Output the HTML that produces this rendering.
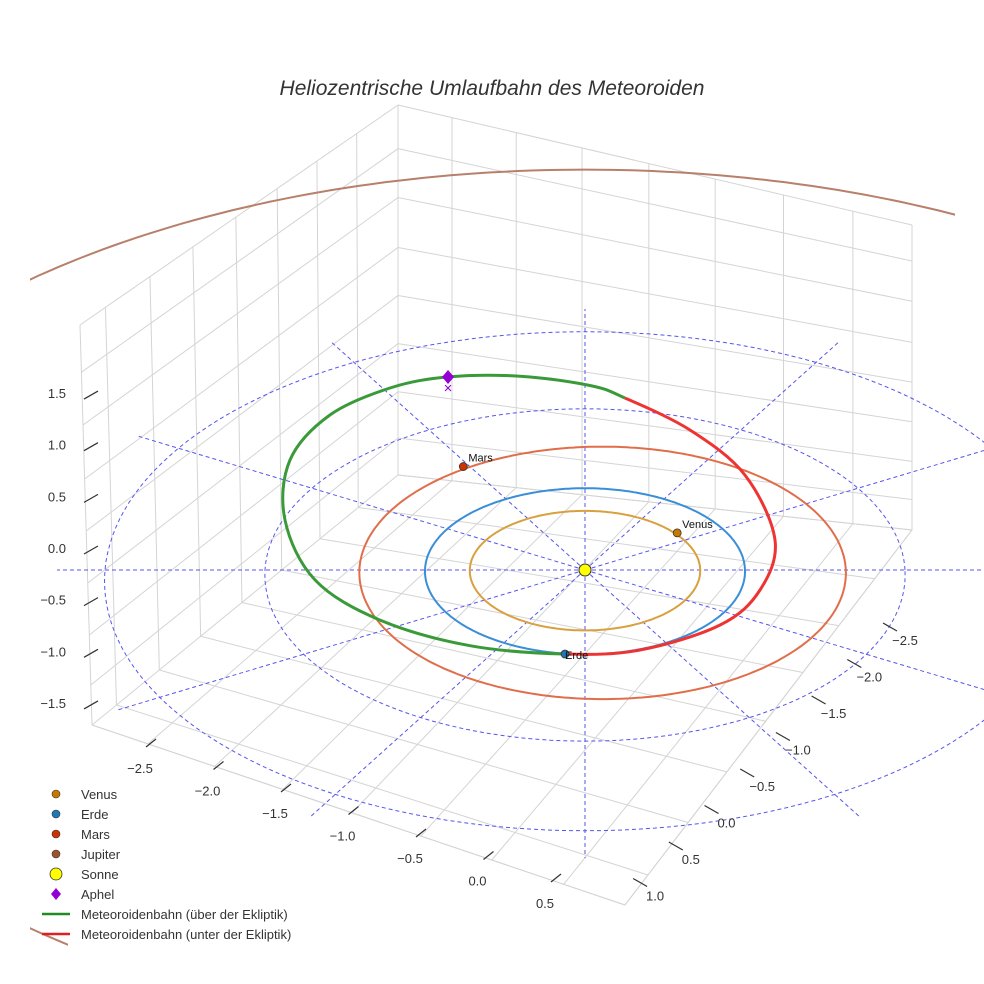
<!DOCTYPE html>
<html><head><meta charset="utf-8"><style>
html,body{margin:0;padding:0;background:#fff;overflow:hidden;width:984px;height:984px}
svg{display:block}
text{font-family:"Liberation Sans",sans-serif}
</style></head><body>
<svg id="c" width="984" height="984" viewBox="0 0 984 984">
<defs><clipPath id="jclip"><rect x="30" y="0" width="925" height="940"/><rect x="30" y="940" width="38" height="44"/></clipPath></defs>
<rect width="984" height="984" fill="#fff"/>
<text x="492" y="95" text-anchor="middle" font-size="21" font-style="italic" fill="#333">Heliozentrische Umlaufbahn des Meteoroiden</text>
<g id="grid"></g><g id="plane"></g><g id="orbits"></g><g id="ticks"></g><g id="legend"></g>
</svg>
<script>
// ---- data ----
const planetNames = ["Venus","Erde","Mars","Jupiter"];
const planetA = [0.72, 1.0, 1.52, 5.2];
const planetCenterX = [0, 0, 0.11, 0];
const planetPosX = [0.58, -0.123, -0.775, null];
const planetPosY = [0.45, -0.997, 1.27, null];
const meteorX = [-0.123,-0.709,-1.27,-1.684,-1.892,-1.881,-1.64,-1.26,-0.887,-0.421,0.032,0.258,0.673,1.017,1.194,1.09,0.836,0.339];
const meteorY = [-0.997,-0.90,-0.598,-0.12,0.608,1.352,1.921,2.267,2.41,2.42,2.30,2.139,1.73,1.164,0.363,-0.24,-0.656,-0.95];
const greenEnd = 11;
const aphelX = [-0.887];
const aphelY = [2.41];
const ringRadii = [2, 3];
const spokeAngles = [0,30,60,90,120,150,180,210,240,270,300,330];
const xTicks = [-2.5,-2,-1.5,-1,-0.5,0,0.5];
const yTicks = [-2.5,-2,-1.5,-1,-0.5,0,0.5,1];
const zTicks = [-1.5,-1,-0.5,0,0.5,1,1.5];

const NS="http://www.w3.org/2000/svg";
function mk(tag,attrs,parent){const e=document.createElementNS(NS,tag);for(const k in attrs)e.setAttribute(k,attrs[k]);parent.appendChild(e);return e;}
function P(x,y){const f=1/(1+0.015*y);return [585+160*x*f,570-83*y*f];}
const lerp=(a,b,t)=>[a[0]+(b[0]-a[0])*t,a[1]+(b[1]-a[1])*t];

// ---- box grid ----
const G=document.getElementById('grid');
const B0=[398,475],B1=[398,105],L0=[92,725],L1=[80,325],R0=[912,530],R1=[912,225],F0=[625,905];
function gl(a,b,name){const l=mk('line',{x1:a[0],y1:a[1],x2:b[0],y2:b[1],stroke:'#d4d4d4','stroke-width':1},G);

}
const zFr=[0,0.118,0.25,0.385,0.515,0.645,0.775,0.9,1];
zFr.forEach(t=>{const b=lerp(B1,B0,t),l=lerp(L1,L0,t),r=lerp(R1,R0,t);gl(l,b,'wall-gridline');gl(b,r,'wall-gridline');});
const lFr=[0,0.13,0.255,0.38,0.51,0.645,0.78,0.92,1];
lFr.forEach(s=>{gl(lerp(B0,L0,s),lerp(B1,L1,s),'wall-gridline');gl(lerp(B0,L0,s),lerp(R0,F0,s),'floor-gridline');});
const rFr=[0.105,0.23,0.358,0.488,0.617,0.75,0.885,1];
rFr.forEach(s=>{gl(lerp(B0,R0,s),lerp(B1,R1,s),'wall-gridline');gl(lerp(B0,R0,s),lerp(L0,F0,s),'floor-gridline');});
gl(L0,F0,'floor-edge');gl(R0,F0,'floor-edge');

// ---- ecliptic plane ----
const PL=document.getElementById('plane');
ringRadii.forEach(r=>{let d='';for(let i=0;i<=180;i++){const a=i/180*2*Math.PI;const p=P(r*Math.cos(a),r*Math.sin(a));d+=(i?'L':'M')+p[0].toFixed(1)+','+p[1].toFixed(1);}
const e=mk('path',{d:d,fill:'none',stroke:'#5555ee','stroke-width':1,'stroke-dasharray':'4,3'},PL);

});
spokeAngles.forEach(deg=>{const a=deg*Math.PI/180;const p=P(3.3*Math.cos(a),3.3*Math.sin(a));
const e=mk('line',{x1:585,y1:570,x2:p[0],y2:p[1],stroke:'#5555ee','stroke-width':1,'stroke-dasharray':'4,3'},PL);

});

// ---- orbits ----
const O=document.getElementById('orbits');
const orbitColors=['#d9a040','#3a8ed8','#e06e4a','#b8806a'];
const dotColors=['#c77800','#1f77b4','#cc3300','#a0522d'];
planetA.forEach((a,i)=>{let d='';for(let k=0;k<=360;k++){const t=k/360*2*Math.PI;const p=P(planetCenterX[i]+a*Math.cos(t),a*Math.sin(t));d+=(k?'L':'M')+p[0].toFixed(1)+','+p[1].toFixed(1);}
const e=mk('path',{d:d,fill:'none',stroke:orbitColors[i],'stroke-width':2},O);
if(i===3)e.setAttribute('clip-path','url(#jclip)');

});
// meteoroid spline
const pts=meteorX.map((x,i)=>P(x,meteorY[i]));const n=pts.length;
function seg(i){const p0=pts[(i-1+n)%n],p1=pts[i],p2=pts[(i+1)%n],p3=pts[(i+2)%n];
return 'C'+(p1[0]+(p2[0]-p0[0])/6).toFixed(1)+','+(p1[1]+(p2[1]-p0[1])/6).toFixed(1)+' '+(p2[0]-(p3[0]-p1[0])/6).toFixed(1)+','+(p2[1]-(p3[1]-p1[1])/6).toFixed(1)+' '+p2[0].toFixed(1)+','+p2[1].toFixed(1);}
let dg='M'+pts[0][0]+','+pts[0][1];for(let i=0;i<greenEnd;i++)dg+=seg(i);
let dr='M'+pts[greenEnd][0]+','+pts[greenEnd][1];for(let i=greenEnd;i<n;i++)dr+=seg(i);
const mg=mk('path',{d:dg,fill:'none',stroke:'#3a9a3a','stroke-width':3},O);


const mr=mk('path',{d:dr,fill:'none',stroke:'#ee3333','stroke-width':3},O);


// planets
planetPosX.forEach((x,i)=>{if(x===null)return;const p=P(x,planetPosY[i]);
const c=mk('circle',{cx:p[0],cy:p[1],r:4,fill:dotColors[i],stroke:'#333','stroke-width':0.8},O);


const t=mk('text',{x:p[0]+(i===1?0:5),y:p[1]+(i===1?5:-5),'font-size':11,fill:'#111'},O);t.textContent=planetNames[i];

});
const sun=mk('circle',{cx:585,cy:570,r:6,fill:'#ffff00',stroke:'#333','stroke-width':1},O);


const ap=P(aphelX[0],aphelY[0]);
const dia=mk('path',{d:`M${ap[0]},${ap[1]-7}L${ap[0]+6},${ap[1]}L${ap[0]},${ap[1]+7}L${ap[0]-6},${ap[1]}Z`,fill:'#9400d3'},O);


const xm=mk('text',{x:ap[0],y:ap[1]+16,'text-anchor':'middle','font-size':15,fill:'#9400d3'},O);xm.textContent='×';



// ---- ticks ----
const T=document.getElementById('ticks');
function tk(a,b){const l=mk('line',{x1:a[0],y1:a[1],x2:b[0],y2:b[1],stroke:'#333','stroke-width':1.2},T);

}
function lab(x,y,s,anchor){const t=mk('text',{x:x,y:y,'font-size':13,fill:'#333','text-anchor':anchor},T);t.textContent=s;

}
const fmt=v=>(v<0?'\u2212':'')+Math.abs(v).toFixed(1);
zTicks.forEach(v=>{const y=548-v*103.3;lab(66,y+5,fmt(v),'end');tk([84,y+6],[98,y-2]);});
xTicks.forEach(v=>{const lx=140+(v+2.5)*135,ly=773+(v+2.5)*45;lab(lx,ly,fmt(v),'middle');tk([lx+6,ly-26],[lx+16,ly-34]);});
yTicks.forEach(v=>{const lx=905-(v+2.5)*71.4,ly=645+(v+2.5)*73;lab(lx,ly,fmt(v),'middle');tk([lx-22,ly-22],[lx-8,ly-14]);});

// ---- legend ----
const LG=document.getElementById('legend');
const legLabels=['Venus','Erde','Mars','Jupiter','Sonne','Aphel','Meteoroidenbahn (über der Ekliptik)','Meteoroidenbahn (unter der Ekliptik)'];
legLabels.forEach((s,i)=>{const y=794+i*20;let m;
if(i<4)m=mk('circle',{cx:56,cy:y,r:4,fill:dotColors[i],stroke:'#333','stroke-width':0.6},LG);
else if(i===4)m=mk('circle',{cx:56,cy:y,r:6,fill:'#ffff00',stroke:'#333','stroke-width':0.8},LG);
else if(i===5)m=mk('path',{d:`M56,${y-6}L61,${y}L56,${y+6}L51,${y}Z`,fill:'#9400d3'},LG);
else m=mk('line',{x1:42,y1:y,x2:70,y2:y,stroke:i===6?'#228b22':'#e02020','stroke-width':2.5},LG);


const t=mk('text',{x:81,y:y+5,'font-size':13,fill:'#333'},LG);t.textContent=s;

});
</script>
</body></html>
